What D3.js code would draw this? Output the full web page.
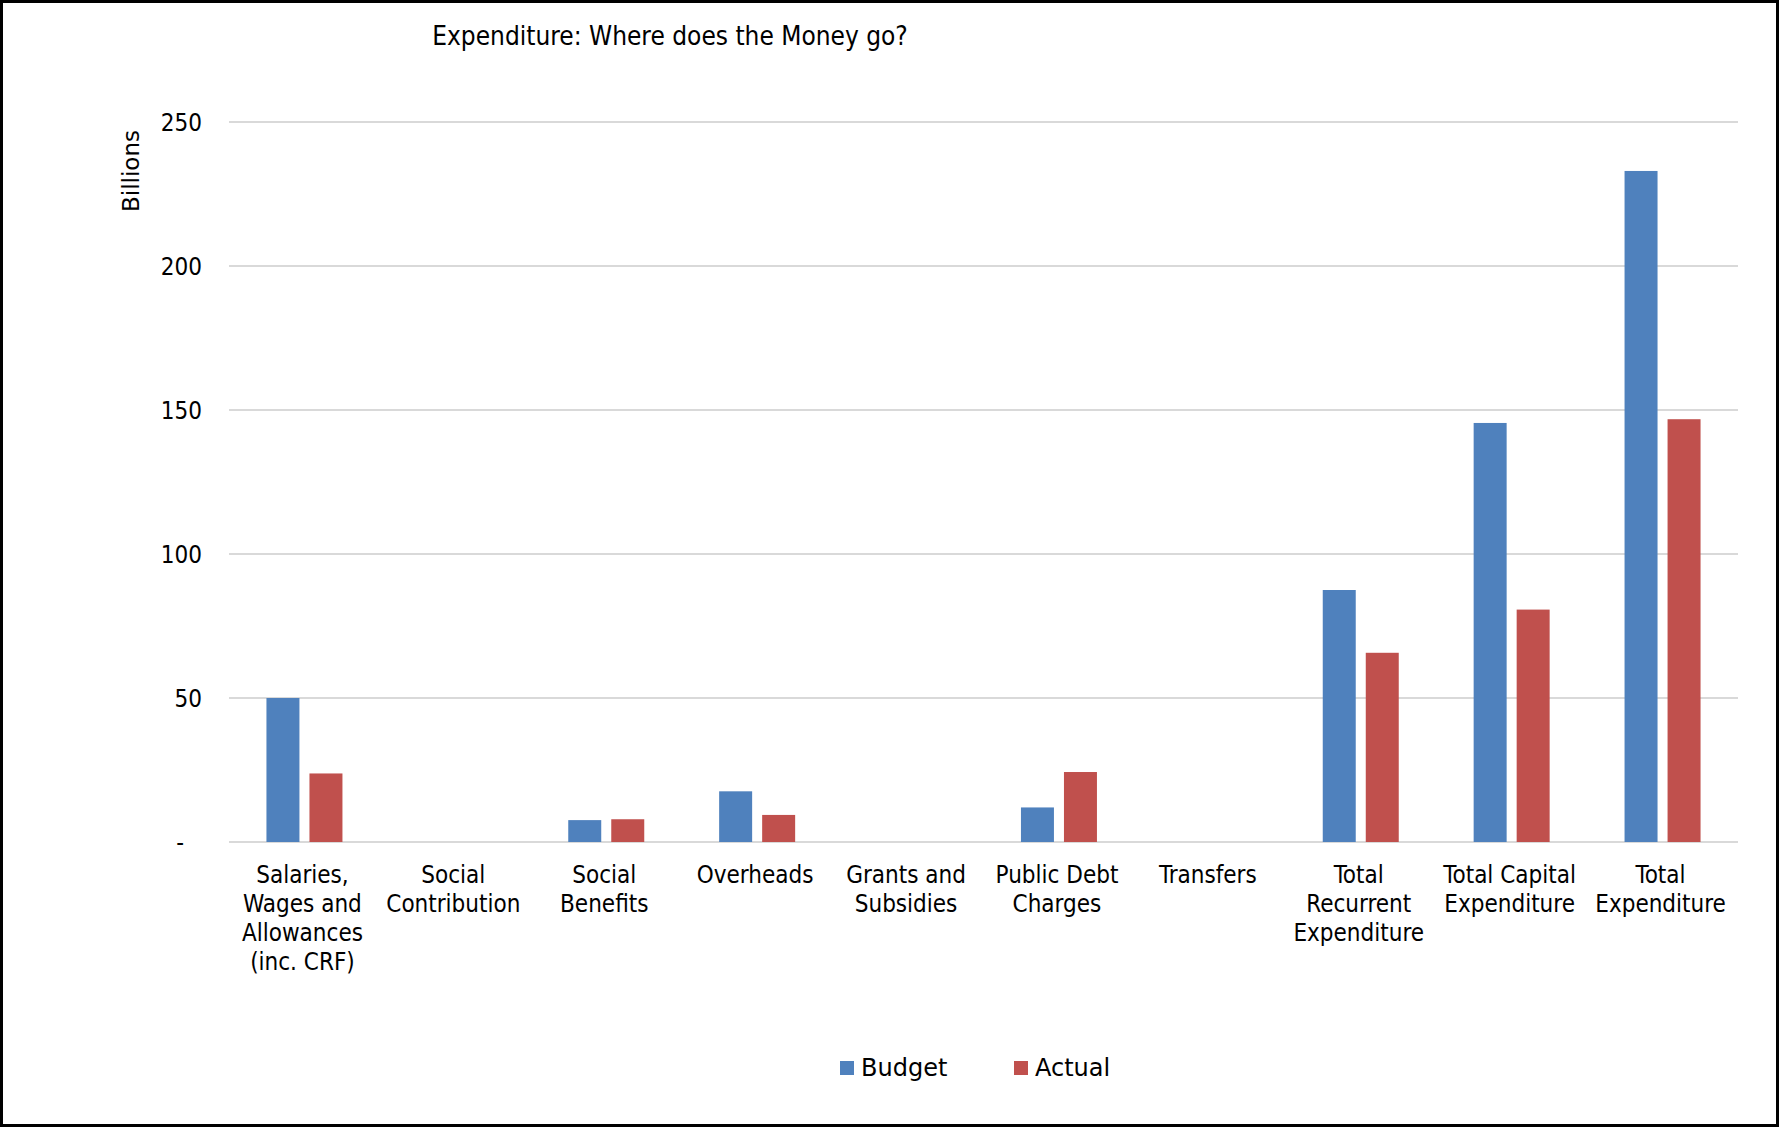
<!DOCTYPE html>
<html>
<head>
<meta charset="utf-8">
<script src="https://cdn.jsdelivr.net/npm/d3@7"></script>
<style>
  body { margin: 0; background: #fff; }
  svg { display: block; }
</style>
</head>
<body>
<script>
// categories, split into the lines they are drawn on
const categories = [
  'Salaries, Wages and Allowances (inc. CRF)',
  'Social Contribution',
  'Social Benefits',
  'Overheads',
  'Grants and Subsidies',
  'Public Debt Charges',
  'Transfers',
  'Total Recurrent Expenditure',
  'Total Capital Expenditure',
  'Total Expenditure'
];
const category_lines = [
  ['Salaries,', 'Wages and', 'Allowances', '(inc. CRF)'],
  ['Social', 'Contribution'],
  ['Social', 'Benefits'],
  ['Overheads'],
  ['Grants and', 'Subsidies'],
  ['Public Debt', 'Charges'],
  ['Transfers'],
  ['Total', 'Recurrent', 'Expenditure'],
  ['Total Capital', 'Expenditure'],
  ['Total', 'Expenditure']
];
const series = ['Budget', 'Actual'];
const budget = [50.0, 0, 7.6, 17.6, 0, 12.0, 0, 87.5, 145.5, 233.0];
const actual = [23.8, 0, 7.9, 9.4, 0, 24.3, 0, 65.7, 80.7, 146.8];
const y_ticks = [0, 50, 100, 150, 200, 250];

const width = 1779, height = 1127;
const margin = {top: 122, right: 41, bottom: 285, left: 229};
const colors = {Budget: '#4f81bd', Actual: '#c0504d'};
const narrow_font = "'DejaVu Sans Condensed', 'Liberation Sans Narrow', 'DejaVu Sans', sans-serif";
const wide_font = "'DejaVu Sans', Verdana, sans-serif";

const data = categories.map((c, i) => ({category: c, lines: category_lines[i], Budget: budget[i], Actual: actual[i]}));

const svg = d3.select('body').append('svg')
  .attr('width', width)
  .attr('height', height);

// outer frame
svg.append('rect')
  .attr('x', 1.5).attr('y', 1.5)
  .attr('width', width - 3).attr('height', height - 3)
  .attr('fill', '#fff')
  .attr('stroke', '#000')
  .attr('stroke-width', 3);

const x0 = d3.scaleBand()
  .domain(categories)
  .range([margin.left, width - margin.right]);

const bw = x0.bandwidth();
const x1 = d3.scaleBand()
  .domain(series)
  .range([bw / 2 - 38, bw / 2 + 38])
  .paddingInner(0.233);

const y = d3.scaleLinear()
  .domain([0, 250])
  .range([height - margin.bottom, margin.top]);

// gridlines
svg.append('g')
  .selectAll('line')
  .data(y_ticks)
  .join('line')
  .attr('x1', margin.left)
  .attr('x2', width - margin.right)
  .attr('y1', d => y(d))
  .attr('y2', d => y(d))
  .attr('stroke', '#d9d9d9')
  .attr('stroke-width', 2);

// y axis labels, zero shown as a dash (accounting style)
const y_axis = svg.append('g')
  .attr('transform', `translate(${margin.left - 27},0)`)
  .call(d3.axisLeft(y).tickValues(y_ticks).tickSize(0).tickFormat(d => d === 0 ? '-' : d));
y_axis.select('.domain').remove();
y_axis.selectAll('text')
  .attr('font-family', narrow_font)
  .attr('font-size', 24)
  .attr('fill', '#000')
  .attr('dy', '0.35em')
  .attr('x', d => d === 0 ? -18 : 0);

// bars
const groups = svg.append('g')
  .selectAll('g')
  .data(data)
  .join('g')
  .attr('transform', d => `translate(${x0(d.category)},0)`);

groups.selectAll('rect')
  .data(d => series.map(s => ({key: s, value: d[s]})))
  .join('rect')
  .attr('x', d => x1(d.key))
  .attr('width', x1.bandwidth())
  .attr('y', d => y(d.value))
  .attr('height', d => y(0) - y(d.value))
  .attr('fill', d => colors[d.key]);

// category labels
const label_g = svg.append('g')
  .selectAll('text')
  .data(data)
  .join('text')
  .attr('x', d => x0(d.category) + bw / 2 - 2)
  .attr('y', y(0) + 41)
  .attr('text-anchor', 'middle')
  .attr('font-family', narrow_font)
  .attr('font-size', 24)
  .attr('fill', '#000');

label_g.selectAll('tspan')
  .data(d => d.lines)
  .join('tspan')
  .attr('x', function() { return d3.select(this.parentNode).attr('x'); })
  .attr('dy', (d, i) => i === 0 ? 0 : 29)
  .text(d => d);

// title
svg.append('text')
  .attr('x', 670)
  .attr('y', 45)
  .attr('text-anchor', 'middle')
  .attr('font-family', narrow_font)
  .attr('font-size', 26)
  .attr('fill', '#000')
  .text('Expenditure: Where does the Money go?');

// y axis title
svg.append('text')
  .attr('transform', 'translate(139,171) rotate(-90)')
  .attr('text-anchor', 'middle')
  .attr('font-family', wide_font)
  .attr('font-size', 23)
  .attr('fill', '#000')
  .text('Billions');

// legend
const legend = svg.append('g')
  .selectAll('g')
  .data(series)
  .join('g')
  .attr('transform', (d, i) => `translate(${[840, 1014][i]},1061)`);

legend.append('rect')
  .attr('width', 14)
  .attr('height', 14)
  .attr('fill', d => colors[d]);

legend.append('text')
  .attr('x', 21)
  .attr('y', 7)
  .attr('dy', '0.35em')
  .attr('font-family', wide_font)
  .attr('font-size', 24)
  .attr('fill', '#000')
  .text(d => d);
</script>
</body>
</html>
